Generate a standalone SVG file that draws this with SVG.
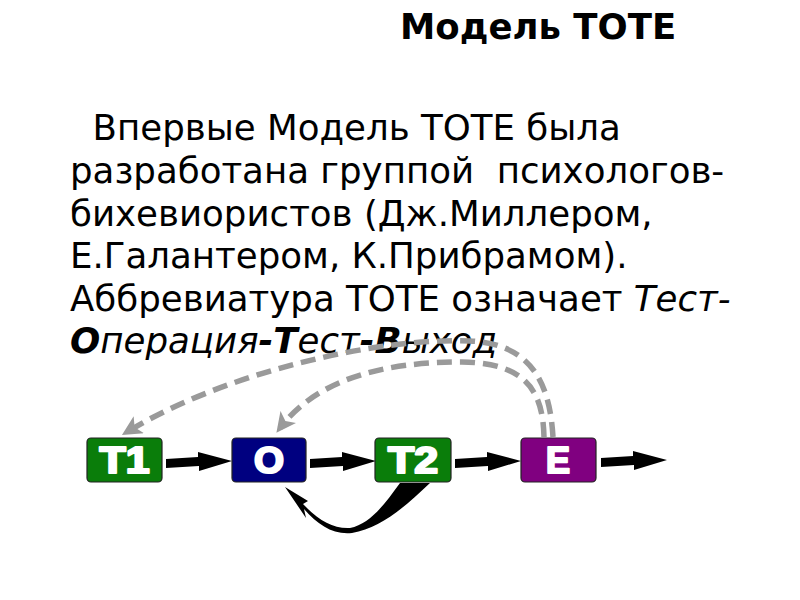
<svg xmlns="http://www.w3.org/2000/svg" width="800" height="600" viewBox="0 0 800 600">
<style>
.t{font-family:"DejaVu Sans",sans-serif;font-size:35.6px;fill:#000}
.h{font-family:"DejaVu Sans",sans-serif;font-size:35.5px;font-weight:bold;fill:#000}
.box{stroke:#222;stroke-width:1.2}
.lbl{font-family:"Liberation Sans",Arial,sans-serif;font-size:36px;font-weight:bold;fill:#fff;stroke:#fff;stroke-width:2.2;stroke-linejoin:round;text-anchor:middle}
.dash{fill:none;stroke:#9a9a9a;stroke-width:5.5;stroke-dasharray:15 8}
</style>
<defs>
<marker id="ga" viewBox="0 0 10 10" refX="7" refY="5" markerWidth="3.6" markerHeight="3.6" orient="auto" markerUnits="strokeWidth">
<path d="M0,0 L10,5 L0,10 L2.5,5 z" fill="#9a9a9a"/>
</marker>
<path id="blk" d="M0,-4 L32,-6 L32,-11 L66,-2 L33,8 L33,3 L0,5 z" fill="#000"/>
</defs>
<rect width="800" height="600" fill="#fff"/>
<text class="h" x="400" y="39">Модель ТОТЕ</text>
<text class="t" xml:space="preserve"><tspan x="70" y="140">  Впервые Модель ТОТЕ была</tspan><tspan x="70" y="183">разработана группой  психологов-</tspan><tspan x="70" y="226">бихевиористов (Дж.Миллером,</tspan><tspan x="70" y="268">Е.Галантером, К.Прибрамом).</tspan><tspan x="70" y="311">Аббревиатура ТОТЕ означает <tspan font-style="italic">Тест-</tspan></tspan><tspan x="70" y="353" font-style="italic"><tspan font-weight="bold">О</tspan>перация<tspan font-weight="bold">-Т</tspan>ест<tspan font-weight="bold">-В</tspan>ыход</tspan></text>
<g id="connectors">
<path class="dash" d="M553,437 C550,388 535,344 470,341 C380,337 225,372 127,432" marker-end="url(#ga)"/>
<path class="dash" d="M544,437 C543,392 527,363 462,362 C385,362 318,378 280,428" marker-end="url(#ga)"/>
<use href="#blk" x="166" y="463"/>
<use href="#blk" x="310" y="463"/>
<use href="#blk" x="455" y="463"/>
<use href="#blk" x="601" y="462"/>
<path d="M400,483 L430,483 C406,506 381,528 352,533 C333,535 318,525 304,509 L306,518 L285,487 L308,501 L303,504 C318,520 333,529 350,528 C370,524 384,505 400,483 z" fill="#000"/>
</g>
<g id="T1"><rect class="box" x="87" y="438" width="75" height="44" rx="4" fill="#0a7d0a"/><text class="lbl" x="124.5" y="473" textLength="50" lengthAdjust="spacingAndGlyphs">T1</text></g>
<g id="O"><rect class="box" x="232" y="438" width="74" height="44" rx="4" fill="#000080"/><text class="lbl" x="269" y="473" textLength="30" lengthAdjust="spacingAndGlyphs">O</text></g>
<g id="T2"><rect class="box" x="375" y="438" width="76" height="44" rx="4" fill="#0a7d0a"/><text class="lbl" x="413" y="473" textLength="50" lengthAdjust="spacingAndGlyphs">T2</text></g>
<g id="E"><rect class="box" x="521" y="438" width="75" height="44" rx="4" fill="#800080"/><text class="lbl" x="558" y="473" textLength="24" lengthAdjust="spacingAndGlyphs">E</text></g>
</svg>
